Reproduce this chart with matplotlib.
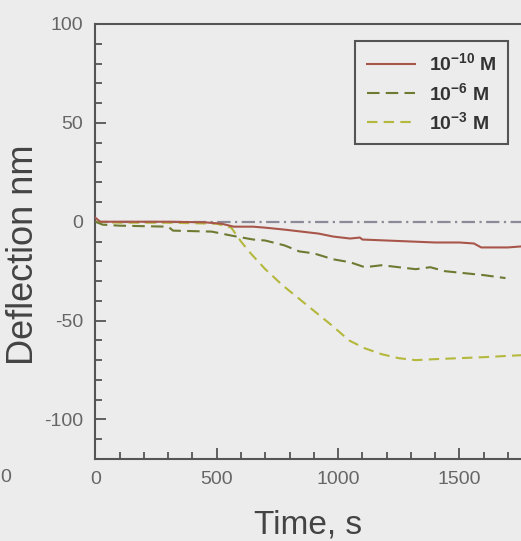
import numpy as np
import matplotlib
matplotlib.use('Agg')
import matplotlib.pyplot as plt
from matplotlib.ticker import MultipleLocator

# Cantilever deflection vs. time for three concentrations
t_low = [0, 20, 150, 300, 450, 520, 570, 650, 700, 780, 850, 920, 980, 1050, 1090, 1100,
         1200, 1300, 1400, 1500, 1560, 1590, 1700, 1754]
d_low = [2, 0, 0, 0, -0.3, -1, -2.5, -2.5, -3, -4, -5, -6, -7.5, -8.5, -8, -9,
         -9.5, -10, -10.5, -10.5, -11, -13, -13, -12.5]

t_mid = [0, 30, 100, 300, 320, 480, 560, 650, 700, 780, 840, 900, 980, 1050, 1110, 1180,
         1250, 1320, 1380, 1440, 1520, 1600, 1690]
d_mid = [0, -1.5, -2, -2.5, -4.5, -5, -7, -9, -9.5, -12, -15, -16, -19, -20.5, -23, -22,
         -23, -24, -23, -25, -26, -27, -28.5]

t_high = [0, 100, 300, 500, 560, 600, 640, 700, 770, 840, 910, 980, 1045, 1110, 1180,
          1250, 1320, 1400, 1500, 1600, 1754]
d_high = [0, -0.5, -0.5, -1, -3, -10, -16, -24, -32, -39, -46, -53, -60, -64, -67,
          -69, -70, -69.5, -69, -68.5, -67.5]

labels = ['10$^{-10}$ M', '10$^{-6}$ M', '10$^{-3}$ M']

bg = '#ececec'
plt.rcParams['font.family'] = ['Liberation Sans', 'DejaVu Sans']
plt.rcParams['axes.unicode_minus'] = False
plt.rcParams['mathtext.fontset'] = 'custom'
plt.rcParams['mathtext.rm'] = 'Liberation Sans:bold'
plt.rcParams['mathtext.it'] = 'Liberation Sans:bold'
plt.rcParams['mathtext.bf'] = 'Liberation Sans:bold'

fig = plt.figure(figsize=(5.21, 5.41), dpi=100, facecolor=bg)
ax = fig.add_axes([95.4 / 521, 1 - 459 / 541, 1 - 95.4 / 521, 435 / 541])
ax.set_facecolor(bg)

# zero reference
ax.axhline(0, color='#8a8a98', lw=1.6, ls=(0, (6, 2, 1, 2)), zorder=1)

ax.plot(t_low, d_low, color='#a8564a', lw=1.5, label=labels[0], zorder=3)
ax.plot(t_mid, d_mid, color='#6e7a32', lw=1.5, ls=(0, (6, 3)), label=labels[1], zorder=3)
ax.plot(t_high, d_high, color='#b4b83c', lw=1.5, ls=(0, (5, 3)), label=labels[2], zorder=2)

ax.set_xlim(0, 1754)
ax.set_ylim(-120, 100)
ax.xaxis.set_major_locator(MultipleLocator(500))
ax.xaxis.set_minor_locator(MultipleLocator(100))
ax.yaxis.set_major_locator(MultipleLocator(50))
ax.yaxis.set_minor_locator(MultipleLocator(10))
ax.tick_params(which='both', direction='in', color='#555555', width=1.3,
               labelsize=14, labelcolor='#666666', top=False, right=False)
ax.tick_params(which='major', length=8, pad=9)
ax.tick_params(which='minor', length=5)

for side in ['left', 'bottom', 'top']:
    ax.spines[side].set_color('#555555')
    ax.spines[side].set_linewidth(1.5)
ax.spines['right'].set_visible(False)

ax.set_xlabel('Time, s', fontsize=24, color='#444444', labelpad=15)
ax.set_ylabel('Deflection nm', fontsize=26, color='#444444')
ax.yaxis.set_label_coords(-0.127, 0.47)

leg = ax.legend(loc='upper left', bbox_to_anchor=(355 / 521, 1 - 41 / 541),
                bbox_transform=fig.transFigure, borderaxespad=0, fancybox=False,
                facecolor=bg, edgecolor='#555555', framealpha=1,
                prop={'size': 14, 'weight': 'bold'}, handlelength=2.5,
                labelspacing=0.37, borderpad=0.6, handletextpad=0.7)
leg.get_frame().set_linewidth(1.5)
for txt in leg.get_texts():
    txt.set_color('#333333')

# tick label of the neighbouring panel at the left edge
fig.text(0.001, 1 - 478 / 541, '0', fontsize=14, color='#666666', ha='left', va='center')

fig.savefig('out.png', dpi=100, facecolor=bg)
